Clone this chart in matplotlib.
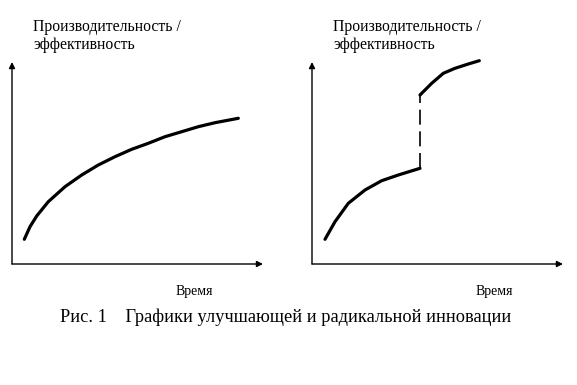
import matplotlib.pyplot as plt

# incremental innovation: time vs performance (arbitrary units)
inc_t = [12.3, 18, 24.7, 36.3, 53, 69.7, 86.3, 103, 119.7, 136.3, 153, 169.7, 186.3, 203, 226.3]
inc_p = [24.7, 37.3, 48, 62.3, 77.3, 89, 99, 107.3, 114.7, 120.7, 127.3, 132.3, 137.3, 141.3, 145.7]

# radical innovation: lower curve, jump, upper curve
rad_low_t = [13, 23, 36.3, 53, 69.7, 86.3, 108]
rad_low_p = [24.7, 42.3, 60.7, 74, 83.3, 89, 95.7]
rad_up_t = [108, 119.7, 131.3, 143, 156.3, 167.3]
rad_up_p = [169, 180.7, 190.7, 195.7, 200, 203.3]

ylabel_1 = "Производительность /"
ylabel_2 = "эффективность"
xlabel = "Время"
caption = "Рис. 1    Графики улучшающей и радикальной инновации"

plt.rcParams['font.family'] = ['Liberation Serif', 'DejaVu Serif']

fig = plt.figure(figsize=(5.77, 3.85), dpi=100)
W, H = 577, 385


def panel(x0):
    ax = fig.add_axes([x0 / W, (H - 264) / H, 251 / W, 202 / H])
    ax.set_xlim(0, 251)
    ax.set_ylim(0, 202)
    ax.axis("off")
    arrow = dict(arrowstyle="-|>", color="black", lw=1, mutation_scale=9,
                 shrinkA=0, shrinkB=0)
    ax.annotate("", xy=(251, 0), xytext=(0, 0), arrowprops=arrow, annotation_clip=False)
    ax.annotate("", xy=(0, 202), xytext=(0, 0), arrowprops=arrow, annotation_clip=False)
    return ax


ax1 = panel(12)
ax1.plot(inc_t, inc_p, color="black", lw=2.3, solid_capstyle="round",
         solid_joinstyle="round", clip_on=False)

ax2 = panel(312)
ax2.plot(rad_low_t, rad_low_p, color="black", lw=2.3, solid_capstyle="round",
         solid_joinstyle="round", clip_on=False)
ax2.plot([rad_low_t[-1], rad_up_t[0]], [rad_low_p[-1], rad_up_p[0]], color="black",
         lw=1.2, dashes=(9, 4), clip_on=False)
ax2.plot(rad_up_t, rad_up_p, color="black", lw=2.3, solid_capstyle="round",
         solid_joinstyle="round", clip_on=False)

for x in (33, 333):
    fig.text(x / W, 1 - 27 / H, ylabel_1, fontsize=11.3, va="center", ha="left")
    fig.text(x / W, 1 - 45 / H, ylabel_2, fontsize=11.3, va="center", ha="left")
for x in (194, 494):
    fig.text(x / W, 1 - 291 / H, xlabel, fontsize=10, va="center", ha="center")

fig.text(286 / W, 1 - 317 / H, caption, fontsize=13.2, va="center", ha="center")

fig.savefig("out.png", dpi=100, facecolor="white")
